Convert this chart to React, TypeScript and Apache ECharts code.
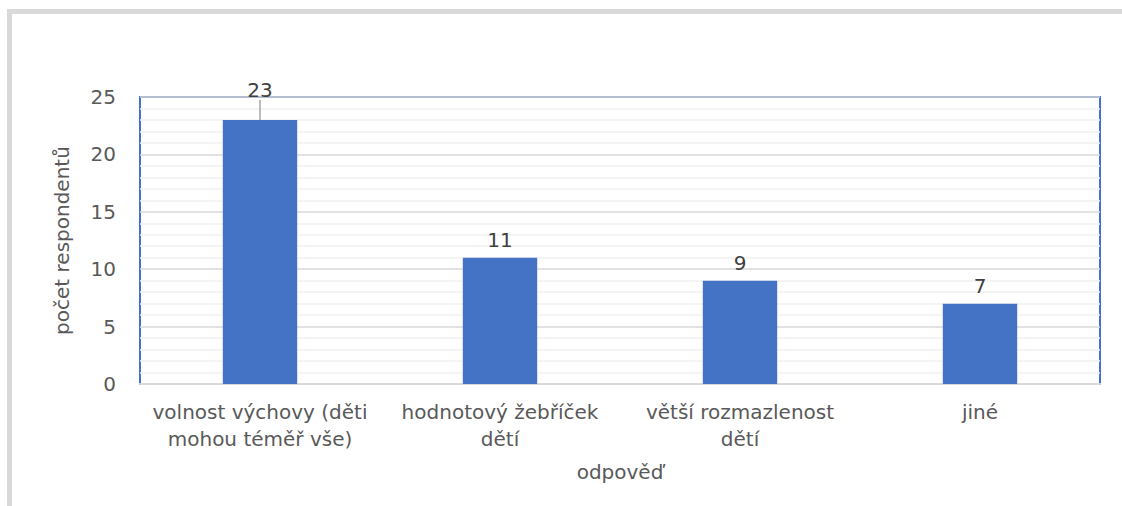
import React, { useEffect, useRef } from "react";
import * as echarts from "echarts";

const categories = [
  "volnost výchovy (děti\nmohou téměř vše)",
  "hodnotový žebříček\ndětí",
  "větší rozmazlenost\ndětí",
  "jiné",
];
const values = [23, 11, 9, 7];
const yTicks = { min: 0, max: 25, interval: 5 };
const xName = "odpověď";
const yName = "počet respondentů";

const FONT = "DejaVu Sans";
const TXT = "#595959";
const FS = 20;

export default function App() {
  const ref = useRef<HTMLDivElement>(null);
  useEffect(() => {
    if (!ref.current) return;
    const chart = echarts.init(ref.current, null, { renderer: "svg" });
    chart.setOption({
      animation: false,
      backgroundColor: "#ffffff",
      textStyle: { fontFamily: FONT },
      graphic: [
        {
          type: "rect",
          silent: true,
          shape: { x: 9.5, y: 11.5, width: 1300, height: 700 },
          style: { fill: "none", stroke: "#d9d9d9", lineWidth: 5 },
        },
      ],
      grid: {
        left: 140,
        right: 22,
        top: 97,
        bottom: 122,
        show: true,
        borderColor: "#4472c4",
        borderWidth: 2,
        backgroundColor: "transparent",
      },
      xAxis: {
        type: "category",
        data: categories,
        name: xName,
        nameLocation: "middle",
        nameGap: 78,
        nameTextStyle: { fontSize: FS, color: TXT, fontFamily: FONT },
        axisLine: { show: true, lineStyle: { color: "#d9d9d9", width: 2 } },
        axisTick: { show: false },
        axisLabel: {
          fontSize: FS,
          color: TXT,
          fontFamily: FONT,
          lineHeight: 27,
          margin: 14,
          interval: 0,
        },
      },
      yAxis: {
        type: "value",
        min: yTicks.min,
        max: yTicks.max,
        interval: yTicks.interval,
        name: yName,
        nameLocation: "middle",
        nameGap: 68,
        nameTextStyle: { fontSize: FS, color: TXT, fontFamily: FONT },
        axisLine: { show: false },
        axisTick: { show: false },
        axisLabel: { fontSize: FS, color: TXT, fontFamily: FONT, margin: 24 },
        splitLine: { show: true, lineStyle: { color: "#d9d9d9", width: 1.5 } },
        minorTick: { show: false, splitNumber: 5 },
        minorSplitLine: { show: true, lineStyle: { color: "#f0f0f0", width: 1.5 } },
      },
      series: [
        {
          type: "bar",
          data: values.map((v, i) =>
            i === 0 ? { value: v, labelLine: { show: true } } : { value: v }
          ),
          barWidth: "31%",
          itemStyle: { color: "#4472c4" },
          label: {
            show: true,
            position: "top",
            distance: 8,
            fontSize: FS,
            color: "#404040",
            fontFamily: FONT,
          },
          labelLine: { show: false, lineStyle: { color: "#a6a6a6", width: 1.5 } },
          labelLayout: (params: any) =>
            params.dataIndex === 0 ? { dy: -12 } : {},
        },
      ],
    });
    return () => chart.dispose();
  }, []);
  return (
    <div
      ref={ref}
      style={{ position: "absolute", left: 0, top: 0, width: 1122, height: 506 }}
    />
  );
}
